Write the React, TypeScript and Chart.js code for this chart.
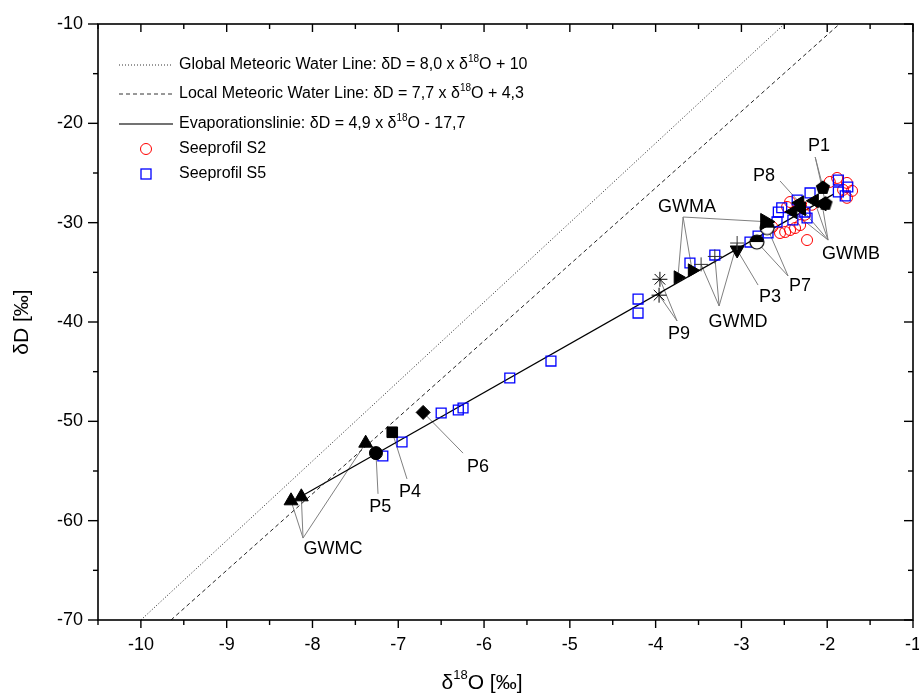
import React, { useEffect, useRef } from "react";
import { Chart, registerables } from "chart.js";

Chart.register(...registerables);

const FONT = '"Liberation Sans", Arial, Helvetica, sans-serif';

// Axis ticks
const xTickValues = [-10, -9, -8, -7, -6, -5, -4, -3, -2, -1];
const yTickValues = [-70, -60, -50, -40, -30, -20, -10];

// Reference lines (end points)
const gmwlLine: [number, number][] = [[-10, -70], [-2.5, -10]];
const lmwlLine: [number, number][] = [[-9.649, -70], [-1.857, -10]];
const evapLine: [number, number][] = [[-8.12, -57.5], [-1.93, -27.15]];

// Seeprofil S2 (red circles)
const seeprofilS2: [number, number][] = [
  [-2.55, -31.04], [-2.49, -30.94], [-2.433, -30.74], [-2.375, -30.54], [-2.316, -30.24],
  [-2.64, -30.44], [-2.468, -28.42], [-2.433, -27.92], [-2.235, -31.75], [-1.885, -25.5],
  [-1.77, -26.0], [-1.77, -27.5], [-1.815, -26.7], [-2.26, -29.2], [-2.18, -28.2],
  [-2.32, -28.2], [-1.97, -25.9], [-1.71, -26.8],
];

// Seeprofil S5 (blue squares)
const seeprofilS5: [number, number][] = [
  [-4.205, -37.69], [-4.205, -39.1], [-5.22, -43.93], [-5.70, -45.64], [-6.50, -49.16],
  [-6.30, -48.86], [-6.245, -48.66], [-6.956, -52.08], [-7.18, -53.49], [-3.60, -34.06],
  [-3.31, -33.26], [-2.90, -31.95], [-2.806, -31.34], [-2.69, -31.04], [-2.57, -28.93],
  [-2.585, -29.93], [-2.40, -29.73], [-2.35, -27.72], [-2.26, -28.93], [-2.235, -29.53],
  [-2.20, -27.01], [-1.87, -25.71], [-1.87, -26.91], [-1.76, -26.41], [-1.79, -27.3],
  [-2.53, -28.5],
];

// Groundwater / spring samples
const gwmcPts: [number, number][] = [[-8.25, -58.0], [-8.13, -57.6], [-7.38, -52.2]];
const p5Pts: [number, number][] = [[-7.26, -53.2]];
const p4Pts: [number, number][] = [[-7.07, -51.1]];
const p6Pts: [number, number][] = [[-6.71, -49.1]];
const p9Pts: [number, number][] = [[-3.95, -35.7], [-3.96, -37.3]];
const gwmaPts: [number, number][] = [[-3.74, -35.5], [-3.575, -34.8], [-2.72, -29.9]];
const gwmdPts: [number, number][] = [[-3.47, -34.2], [-3.31, -33.4], [-3.05, -32.05]];
const p3Pts: [number, number][] = [[-3.05, -32.75]];
const p7Pts: [number, number][] = [[-2.82, -31.95], [-2.70, -30.5]];
const gwmbPts: [number, number][] = [[-2.40, -28.9], [-2.30, -28.6], [-2.15, -27.8], [-2.06, -28.1]];
const p8Pts: [number, number][] = [[-2.32, -28.0]];
const p1Pts: [number, number][] = [[-2.05, -26.4], [-2.02, -28.0]];

// Annotations: label text, label centre, leader-line origin
const annLabels = ["P1", "P8", "GWMA", "GWMB", "P7", "P3", "GWMD", "P9", "P6", "P4", "P5", "GWMC"];
const annTextPos: [number, number][] = [
  [-2.095, -22.28], [-2.736, -25.3], [-3.634, -28.42], [-1.722, -33.15], [-2.316, -36.38],
  [-2.666, -37.48], [-3.04, -40.0], [-3.727, -41.2], [-6.07, -54.6], [-6.863, -57.1],
  [-7.21, -58.6], [-7.76, -62.85],
];
const annAnchor: [number, number][] = [
  [-2.14, -23.4], [-2.55, -25.8], [-3.68, -29.43], [-1.99, -31.75], [-2.456, -35.37],
  [-2.806, -36.28], [-3.26, -38.39], [-3.75, -39.9], [-6.245, -53.2], [-6.898, -55.8],
  [-7.236, -57.3], [-8.11, -61.75],
];
const annTargets = [p1Pts, p8Pts, gwmaPts, gwmbPts, p7Pts, p3Pts, gwmdPts, p9Pts, p6Pts, p4Pts, p5Pts, gwmcPts];

// Legend
const legendTexts: [string, boolean][][] = [
  [["Global Meteoric Water Line: δD = 8,0 x δ", false], ["18", true], ["O + 10", false]],
  [["Local Meteoric Water Line: δD = 7,7 x δ", false], ["18", true], ["O + 4,3", false]],
  [["Evaporationslinie: δD = 4,9 x δ", false], ["18", true], ["O - 17,7", false]],
  [["Seeprofil S2", false]],
  [["Seeprofil S5", false]],
];
const xTitle: [string, boolean][] = [["δ", false], ["18", true], ["O [‰]", false]];
const yTitle = "δD [‰]";

function drawRich(ctx: CanvasRenderingContext2D, parts: [string, boolean][], x: number, y: number, size: number, align: string) {
  const supSize = Math.round(size * 0.62);
  const widths = parts.map(([t, sup]) => {
    ctx.font = `${sup ? supSize : size}px ${FONT}`;
    return ctx.measureText(t).width;
  });
  const total = widths.reduce((a, b) => a + b, 0);
  let cx = align === "center" ? x - total / 2 : align === "right" ? x - total : x;
  ctx.textAlign = "left";
  ctx.textBaseline = "middle";
  parts.forEach(([t, sup], i) => {
    ctx.font = `${sup ? supSize : size}px ${FONT}`;
    ctx.fillText(t, cx, sup ? y - size * 0.38 : y);
    cx += widths[i];
  });
}

function makeCanvas(size: number, draw: (c: CanvasRenderingContext2D, s: number) => void) {
  const cv = document.createElement("canvas");
  cv.width = size;
  cv.height = size;
  const c = cv.getContext("2d")!;
  draw(c, size);
  return cv;
}

const toXY = (arr: [number, number][]) => arr.map(([x, y]) => ({ x, y }));

export default function App() {
  const ref = useRef<HTMLCanvasElement>(null);

  useEffect(() => {
    const canvas = ref.current!;

    const pentagon = makeCanvas(18, (c, s) => {
      c.beginPath();
      for (let i = 0; i < 5; i++) {
        const a = -Math.PI / 2 + (i * 2 * Math.PI) / 5;
        const px = s / 2 + 7.5 * Math.cos(a);
        const py = s / 2 + 1 + 7.5 * Math.sin(a);
        if (i === 0) c.moveTo(px, py);
        else c.lineTo(px, py);
      }
      c.closePath();
      c.fillStyle = "#000";
      c.fill();
    });

    const halfCircle = makeCanvas(18, (c, s) => {
      const r = 7;
      c.beginPath();
      c.arc(s / 2, s / 2, r, 0, Math.PI * 2);
      c.fillStyle = "#fff";
      c.fill();
      c.beginPath();
      c.arc(s / 2, s / 2, r, Math.PI, Math.PI * 2);
      c.closePath();
      c.fillStyle = "#000";
      c.fill();
      c.beginPath();
      c.arc(s / 2, s / 2, r, 0, Math.PI * 2);
      c.strokeStyle = "#000";
      c.lineWidth = 1.2;
      c.stroke();
    });

    const lineDs = (pts: [number, number][], dash: number[], color: string, w: number) => ({
      data: toXY(pts),
      showLine: true,
      borderColor: color,
      borderWidth: w,
      borderDash: dash,
      pointRadius: 0,
      fill: false,
      order: 5,
    });

    const markerDs = (pts: [number, number][], extra: any) => ({
      data: toXY(pts),
      showLine: false,
      backgroundColor: "#000",
      borderColor: "#000",
      borderWidth: 1,
      order: 0,
      ...extra,
    });

    const datasets: any[] = [
      lineDs(gmwlLine, [1, 2], "#222", 1),
      lineDs(lmwlLine, [4, 3], "#222", 1),
      lineDs(evapLine, [], "#000", 1.2),
      {
        data: toXY(seeprofilS2), showLine: false, pointStyle: "circle", pointRadius: 5.5,
        borderColor: "#ff0000", backgroundColor: "rgba(0,0,0,0)", borderWidth: 1, order: 3,
      },
      {
        data: toXY(seeprofilS5), showLine: false, pointStyle: "rect", pointRadius: 7,
        borderColor: "#0000ff", backgroundColor: "rgba(0,0,0,0)", borderWidth: 1.3, order: 2,
      },
      markerDs(gwmcPts, { pointStyle: "triangle", pointRadius: 8 }),
      markerDs(p5Pts, { pointStyle: "circle", pointRadius: 6.5 }),
      markerDs(p4Pts, { pointStyle: "rect", pointRadius: 7.5 }),
      markerDs(p6Pts, { pointStyle: "rectRot", pointRadius: 7 }),
      markerDs(p9Pts, { pointStyle: "star", pointRadius: 7.5, borderWidth: 1 }),
      markerDs(gwmaPts, { pointStyle: "triangle", rotation: 90, pointRadius: [7.5, 7.5, 9.5] }),
      markerDs(gwmdPts, { pointStyle: "cross", pointRadius: 7, borderColor: "#333", borderWidth: 1 }),
      markerDs(p3Pts, { pointStyle: "triangle", rotation: 180, pointRadius: 8 }),
      markerDs(p7Pts, { pointStyle: halfCircle }),
      markerDs(gwmbPts, { pointStyle: "triangle", rotation: 270, pointRadius: 8 }),
      markerDs(p8Pts, { pointStyle: "triangle", rotation: 270, pointRadius: 8 }),
      markerDs(p1Pts, { pointStyle: pentagon }),
    ];

    const bgPlugin = {
      id: "bg",
      beforeDraw(chart: any) {
        const ctx = chart.ctx;
        ctx.save();
        ctx.fillStyle = "#fff";
        ctx.fillRect(0, 0, chart.width, chart.height);
        ctx.restore();
      },
    };

    const leaderPlugin = {
      id: "leaders",
      beforeDatasetsDraw(chart: any) {
        const ctx = chart.ctx;
        const xs = chart.scales.x;
        const ys = chart.scales.y;
        ctx.save();
        ctx.strokeStyle = "#808080";
        ctx.lineWidth = 1;
        annAnchor.forEach(([ax, ay], i) => {
          const x0 = xs.getPixelForValue(ax);
          const y0 = ys.getPixelForValue(ay);
          annTargets[i].forEach(([tx, ty]) => {
            ctx.beginPath();
            ctx.moveTo(x0, y0);
            ctx.lineTo(xs.getPixelForValue(tx), ys.getPixelForValue(ty));
            ctx.stroke();
          });
        });
        ctx.restore();
      },
    };

    const framePlugin = {
      id: "frame",
      afterDraw(chart: any) {
        const ctx = chart.ctx;
        const xs = chart.scales.x;
        const ys = chart.scales.y;
        const { left, right, top, bottom } = chart.chartArea;
        ctx.save();
        ctx.strokeStyle = "#000";
        ctx.lineWidth = 1.6;
        ctx.strokeRect(left, top, right - left, bottom - top);
        ctx.lineWidth = 1.4;
        const tick = (x1: number, y1: number, x2: number, y2: number) => {
          ctx.beginPath();
          ctx.moveTo(x1, y1);
          ctx.lineTo(x2, y2);
          ctx.stroke();
        };
        xTickValues.forEach((v) => {
          const p = xs.getPixelForValue(v);
          tick(p, bottom, p, bottom + 8);
          tick(p, top, p, top + 8);
          const m = xs.getPixelForValue(v - 0.5);
          tick(m, bottom, m, bottom + 5);
          tick(m, top, m, top + 5);
        });
        yTickValues.forEach((v) => {
          const p = ys.getPixelForValue(v);
          tick(left, p, left - 10, p);
          tick(right, p, right - 9, p);
          if (v > -70) {
            const m = ys.getPixelForValue(v - 5);
            tick(left, m, left - 5, m);
            tick(right, m, right - 5, m);
          }
        });

        // Annotation labels
        ctx.fillStyle = "#000";
        annLabels.forEach((t, i) => {
          drawRich(ctx, [[t, false]], xs.getPixelForValue(annTextPos[i][0]), ys.getPixelForValue(annTextPos[i][1]), 18, "center");
        });

        // Legend
        const rows = [65, 94, 124, 149, 174];
        const lx0 = 119, lx1 = 173, mx = 146, tx = 179;
        ctx.strokeStyle = "#333";
        ctx.lineWidth = 1;
        ctx.setLineDash([1, 2]);
        tick(lx0, rows[0], lx1, rows[0]);
        ctx.setLineDash([4, 3]);
        tick(lx0, rows[1], lx1, rows[1]);
        ctx.setLineDash([]);
        ctx.strokeStyle = "#444";
        ctx.lineWidth = 1.4;
        tick(lx0, rows[2], lx1, rows[2]);
        ctx.strokeStyle = "#ff0000";
        ctx.lineWidth = 1;
        ctx.beginPath();
        ctx.arc(mx, rows[3], 5.5, 0, Math.PI * 2);
        ctx.stroke();
        ctx.strokeStyle = "#0000ff";
        ctx.lineWidth = 1.3;
        ctx.strokeRect(mx - 5, rows[4] - 5, 10, 10);
        ctx.fillStyle = "#000";
        legendTexts.forEach((parts, i) => drawRich(ctx, parts, tx, rows[i], 16, "left"));

        // Axis titles
        drawRich(ctx, xTitle, 482, 683, 21, "center");
        ctx.translate(22, (top + bottom) / 2);
        ctx.rotate(-Math.PI / 2);
        drawRich(ctx, [[yTitle, false]], 0, 0, 21, "center");
        ctx.restore();
      },
    };

    const tickFont = { family: FONT, size: 18 };

    const chart = new Chart(canvas, {
      type: "scatter",
      data: { datasets },
      options: {
        responsive: false,
        animation: false,
        devicePixelRatio: 1,
        layout: { autoPadding: false, padding: { top: 24, right: 6, left: 0, bottom: 0 } },
        plugins: { legend: { display: false }, tooltip: { enabled: false } },
        scales: {
          x: {
            type: "linear",
            min: -10.5,
            max: -1,
            afterBuildTicks: (axis: any) => {
              axis.ticks = xTickValues.map((v) => ({ value: v }));
            },
            afterFit: (s: any) => {
              s.height = 78;
              s.paddingLeft = 0;
              s.paddingRight = 0;
            },
            grid: { display: false, drawTicks: false },
            border: { display: false },
            ticks: { font: tickFont, color: "#000", padding: 14, maxRotation: 0, autoSkip: false },
          },
          y: {
            type: "linear",
            min: -70,
            max: -10,
            afterBuildTicks: (axis: any) => {
              axis.ticks = yTickValues.map((v) => ({ value: v }));
            },
            afterFit: (s: any) => {
              s.width = 98;
              s.paddingTop = 0;
              s.paddingBottom = 0;
            },
            grid: { display: false, drawTicks: false },
            border: { display: false },
            ticks: { font: tickFont, color: "#000", padding: 15, autoSkip: false },
          },
        },
      } as any,
      plugins: [bgPlugin, leaderPlugin, framePlugin],
    });

    return () => chart.destroy();
  }, []);

  return (
    <div style={{ position: "absolute", left: 0, top: 0, width: 919, height: 698, background: "#fff" }}>
      <canvas ref={ref} width={919} height={698} style={{ display: "block", width: 919, height: 698 }} />
    </div>
  );
}
